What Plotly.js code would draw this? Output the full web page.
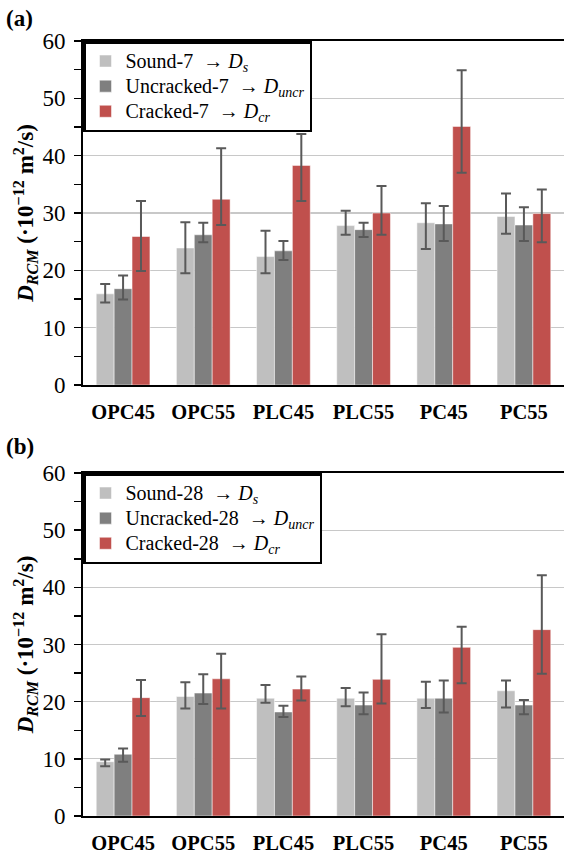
<!DOCTYPE html>
<html>
<head>
<meta charset="utf-8">
<script src="https://cdn.plot.ly/plotly-3.0.1.min.js"></script>
<style>html,body{margin:0;padding:0;background:#fff;}#chart{width:564px;height:853px;}</style>
</head>
<body>
<div id="chart"></div>
<script>
// Categories
const categories = ["OPC45", "OPC55", "PLC45", "PLC55", "PC45", "PC55"];

// (a) 7 days
const sound7 = [15.9, 23.9, 22.4, 27.8, 28.3, 29.4];
const sound7Plus = [1.7, 4.5, 4.5, 2.6, 3.4, 4.0];
const sound7Minus = [1.5, 4.4, 2.9, 1.6, 4.6, 3.0];
const uncr7 = [16.8, 26.2, 23.4, 27.1, 28.1, 27.9];
const uncr7Plus = [2.3, 2.1, 1.7, 1.2, 3.1, 3.1];
const uncr7Minus = [1.9, 1.3, 1.6, 1.3, 3.0, 2.8];
const cr7 = [25.9, 32.4, 38.3, 30.0, 45.1, 29.9];
const cr7Plus = [6.2, 8.9, 5.5, 4.7, 9.8, 4.2];
const cr7Minus = [6.0, 4.5, 6.2, 3.8, 8.1, 5.0];

// (b) 28 days
const sound28 = [9.5, 20.9, 20.6, 20.6, 20.6, 21.9];
const sound28Plus = [0.4, 2.5, 2.3, 1.8, 2.9, 1.8];
const sound28Minus = [0.8, 2.1, 0.8, 1.4, 1.7, 2.9];
const uncr28 = [10.8, 21.5, 18.2, 19.4, 20.6, 19.4];
const uncr28Plus = [1.0, 3.3, 1.1, 2.2, 3.1, 0.9];
const uncr28Minus = [1.3, 1.9, 0.9, 1.6, 2.5, 1.6];
const cr28 = [20.7, 24.0, 22.2, 23.9, 29.5, 32.6];
const cr28Plus = [3.1, 4.4, 2.2, 7.9, 3.6, 9.5];
const cr28Minus = [3.2, 5.2, 2.0, 4.2, 6.3, 7.7];

const cSound = "#bfbfbf", cUncr = "#7f7f7f", cCr = "#c0504d";
const errColor = "#595959";
const serif = "Liberation Serif, Times New Roman, serif";

function lg(label, sub) {
  return '<span style="font-size:20px">' + label + ' → <i>D<sub>' + sub + '</sub></i></span>';
}

function bar(name, y, plus, minus, color, xa, ya, legend) {
  return {
    type: "bar", name: name, x: categories, y: y,
    xaxis: xa, yaxis: ya, legend: legend,
    marker: {color: color, line: {color: "#ffffff", width: 0.5}},
    error_y: {type: "data", symmetric: false, array: plus, arrayminus: minus,
              color: errColor, thickness: 2, width: 5},
    hoverinfo: "y"
  };
}

const traces = [
  bar(lg("Sound-7 ", "s"), sound7, sound7Plus, sound7Minus, cSound, "x", "y", "legend"),
  bar(lg("Uncracked-7 ", "uncr"), uncr7, uncr7Plus, uncr7Minus, cUncr, "x", "y", "legend"),
  bar(lg("Cracked-7 ", "cr"), cr7, cr7Plus, cr7Minus, cCr, "x", "y", "legend"),
  bar(lg("Sound-28 ", "s"), sound28, sound28Plus, sound28Minus, cSound, "x2", "y2", "legend2"),
  bar(lg("Uncracked-28 ", "uncr"), uncr28, uncr28Plus, uncr28Minus, cUncr, "x2", "y2", "legend2"),
  bar(lg("Cracked-28 ", "cr"), cr28, cr28Plus, cr28Minus, cCr, "x2", "y2", "legend2")
];

const H = 853;
const yTitle = "<b><i>D</i><sub><i>RCM</i></sub> (·10<sup>−12</sup> m<sup>2</sup>/s)</b>";

function xaxis(anchor) {
  return {
    anchor: anchor, domain: [0, 1], range: [-0.5, 5.5],
    showline: true, linecolor: "#000", linewidth: 2, mirror: true,
    ticks: "", showgrid: false, fixedrange: true,
    tickfont: {family: serif, size: 20.5, color: "#000", weight: "bold"},
    ticklabelstandoff: 7
  };
}
function yaxis(anchor, dom) {
  return {
    anchor: anchor, domain: dom, range: [0, 60], dtick: 10,
    showline: true, linecolor: "#000", linewidth: 2,
    ticks: "outside", ticklen: 7, tickwidth: 1.5, tickcolor: "#000",
    minor: {dtick: 5, ticks: "outside", ticklen: 7, tickwidth: 1.5, tickcolor: "#000", showgrid: false},
    showgrid: true, gridcolor: "#c8c8c8", gridwidth: 1.2,
    zeroline: false, fixedrange: true,
    tickfont: {family: serif, size: 23, color: "#000"},
    ticklabelstandoff: 4,
    title: {text: yTitle, font: {family: serif, size: 23, color: "#000"}, standoff: 2}
  };
}

const legendBase = {
  x: 0, xanchor: "left", yanchor: "top",
  bgcolor: "#fff", bordercolor: "#000", borderwidth: 2.5,
  font: {family: serif, size: 17, color: "#000"}, itemwidth: 30,
  tracegroupgap: 0
};

const layout = {
  width: 564, height: H,
  margin: {l: 83, r: 0, t: 0, b: 0},
  paper_bgcolor: "#fff", plot_bgcolor: "#fff",
  barmode: "group", bargap: 0.33, bargroupgap: 0,
  xaxis: xaxis("y"),
  yaxis: yaxis("x", [(H - 385) / H, (H - 41) / H]),
  xaxis2: xaxis("y2"),
  yaxis2: yaxis("x2", [(H - 816) / H, (H - 473) / H]),
  legend: Object.assign({}, legendBase, {y: (H - 41) / H}),
  legend2: Object.assign({}, legendBase, {y: (H - 473) / H}),
  annotations: [
    {text: "<b>(a)</b>", xref: "paper", yref: "paper", x: -0.165, y: (H - 18) / H,
     xanchor: "left", yanchor: "middle", showarrow: false,
     font: {family: serif, size: 23, color: "#000"}},
    {text: "<b>(b)</b>", xref: "paper", yref: "paper", x: -0.165, y: (H - 446) / H,
     xanchor: "left", yanchor: "middle", showarrow: false,
     font: {family: serif, size: 23, color: "#000"}}
  ],
  showlegend: true
};

Plotly.newPlot("chart", traces, layout, {displayModeBar: false, staticPlot: true});
</script>
</body>
</html>
